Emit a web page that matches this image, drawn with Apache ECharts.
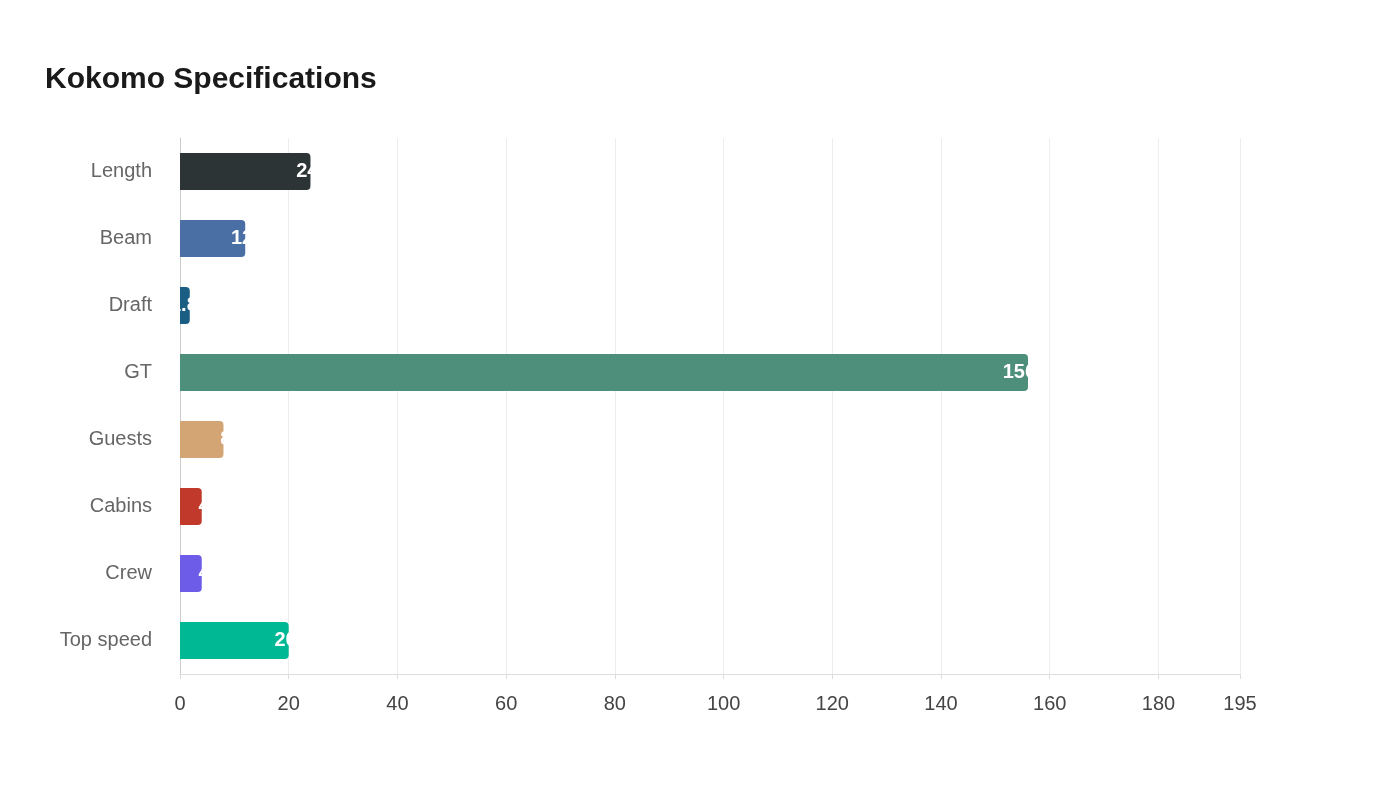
<!DOCTYPE html>
<html>
<head>
<meta charset="utf-8">
<script src="https://cdn.jsdelivr.net/npm/echarts@6/dist/echarts.min.js"></script>
<style>html,body{margin:0;background:#fff}#chart{width:1400px;height:800px}</style>
</head>
<body>
<div id="chart"></div>
<script>
const categories = ['Length', 'Beam', 'Draft', 'GT', 'Guests', 'Cabins', 'Crew', 'Top speed'];
const values = [24, 12, 1.8, 156, 8, 4, 4, 20];
const colors = ['#2d3436', '#4a6fa5', '#1b5e83', '#4e8f7c', '#d4a574', '#c0392b', '#6c5ce7', '#00b894'];

const chart = echarts.init(document.getElementById('chart'));
chart.setOption({
    animation: false,
    title: {
        text: 'Kokomo Specifications',
        left: 40, top: 60,
        textStyle: { fontFamily: 'Liberation Sans', fontSize: 30, fontWeight: 'bold', color: '#1a1a1a' }
    },
    grid: { left: 180, right: 160, top: 138, bottom: 126 },
    xAxis: {
        type: 'value', min: 0, max: 195, interval: 20,
        axisLine: { show: true, lineStyle: { color: '#ddd' } },
        axisTick: { show: true, lineStyle: { color: '#ddd' } },
        splitLine: { lineStyle: { color: '#eee' } },
        axisLabel: {
            color: '#444', fontSize: 20, fontFamily: 'Liberation Sans', margin: 20,
            showMaxLabel: true
        }
    },
    yAxis: {
        type: 'category', data: categories, inverse: true,
        axisLine: { show: true, lineStyle: { color: '#ccc' } },
        axisTick: { show: false },
        axisLabel: { color: '#666', fontSize: 20, fontFamily: 'Liberation Sans', margin: 28 }
    },
    series: [{
        type: 'bar',
        data: values.map((v, i) => ({ value: v, itemStyle: { color: colors[i] } })),
        barWidth: '55%',
        itemStyle: { borderRadius: [0, 4, 4, 0] },
        label: {
            show: true, position: 'insideRight', distance: -8, color: '#fff',
            fontWeight: 'bold', fontSize: 20, fontFamily: 'Liberation Sans'
        }
    }]
});
</script>
</body>
</html>
